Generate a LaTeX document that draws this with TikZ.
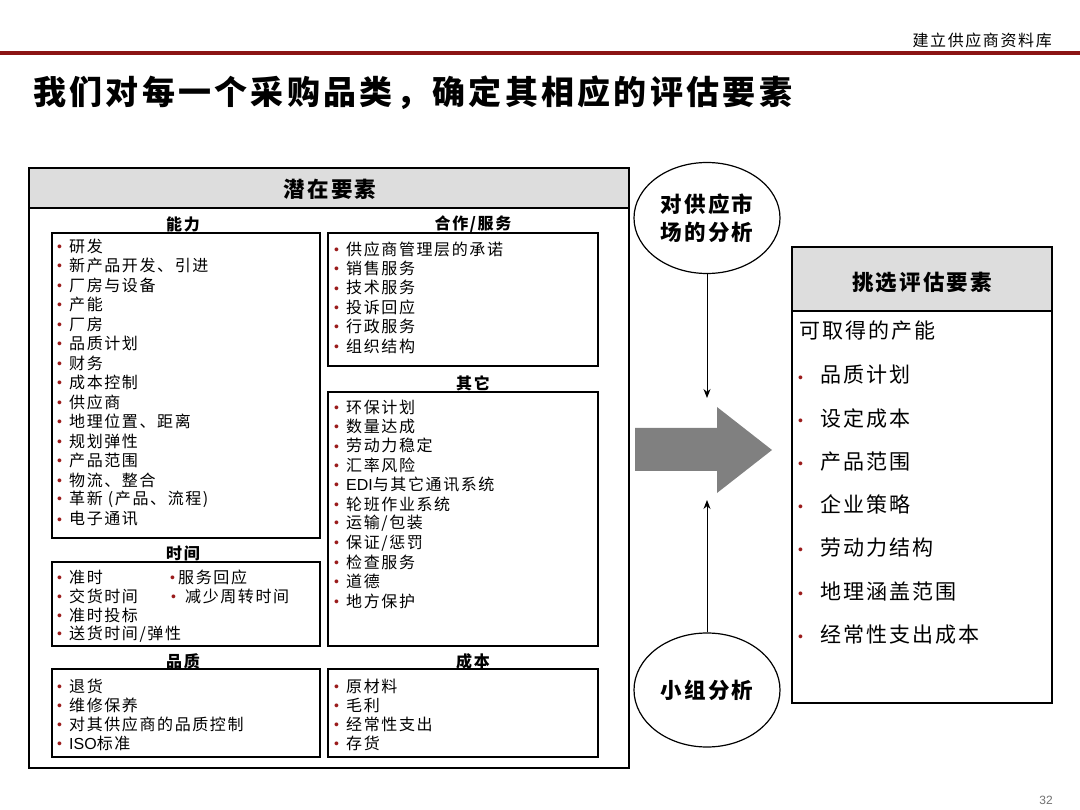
\documentclass[tikz,border=0pt]{standalone}
\usepackage{fontspec}
\setmainfont{Noto Sans CJK SC}[LetterSpace=10]
\newfontfamily\latfont{Liberation Sans}
\usetikzlibrary{shapes.geometric,arrows.meta}
\definecolor{darkred}{HTML}{8B1414}
\definecolor{bulred}{HTML}{9A1B1B}
\definecolor{hdrgray}{HTML}{DDDDDD}
\definecolor{arrowgray}{HTML}{808080}
\definecolor{pagegray}{HTML}{707070}
\newcommand\lat[1]{{\latfont #1}}
\newcommand\bl[1][12pt]{\makebox[#1][l]{\raisebox{0.8pt}{\textcolor{bulred}{\latfont\fontsize{14}{14}\selectfont •}}}}
\tikzset{
  box/.style={draw=black, line width=1.3pt},
  item/.style={anchor=west, inner sep=0pt, font=\fontsize{16}{16}\selectfont},
  bigitem/.style={anchor=west, inner sep=0pt, font=\fontsize{21}{21}\selectfont},
  lbl/.style={inner sep=0pt, font=\bfseries\fontsize{16}{16}\selectfont},
  hdrtxt/.style={inner sep=0pt, font=\bfseries\fontsize{21.5}{21.5}\selectfont},
  oval/.style={ellipse, draw=black, line width=1.2pt, align=center, inner sep=0pt,
    font=\bfseries\fontsize{21.5}{28}\selectfont},
  thin arrow/.style={line width=0.9pt, -{Stealth[length=9pt,width=7pt]}}
}
\begin{document}
\begin{tikzpicture}[x=1pt,y=-1pt]
\useasboundingbox (0,0) rectangle (1080,810);
% header
\node[anchor=east, inner sep=0pt, font=\fontsize{16}{16}\selectfont] (hdr) at (1052,40) {建立供应商资料库};
\fill[darkred] (0,51.5) rectangle (1080,55);
\node[anchor=west, inner sep=0pt, font=\bfseries\fontsize{33}{33}\selectfont] (title) at (33,93) {我们对每一个采购品类，确定其相应的评估要素};
% outer box
\filldraw[box, fill=hdrgray] (29,168) rectangle (629,208);
\draw[box] (29,168) rectangle (629,768);
\node[hdrtxt] (qz) at (330,189) {潜在要素};
% inner boxes
\draw[box] (52,233) rectangle (320,538);
\draw[box] (52,562) rectangle (320,646);
\draw[box] (52,669) rectangle (320,757);
\draw[box] (328,233) rectangle (598,366);
\draw[box] (328,392) rectangle (598,646);
\draw[box] (328,669) rectangle (598,757);
% labels
\node[lbl] (lnl) at (183,224) {能力};
\node[lbl] (lsj) at (183,553) {时间};
\node[lbl] (lpz) at (183,661) {品质};
\node[lbl] (lhz) at (473,224) {合作/服务};
\node[lbl] (lqt) at (473,383) {其它};
\node[lbl] (lcb) at (473,661) {成本};
% items
\foreach \t [count=\i from 0] in {研发,新产品开发、引进,厂房与设备,产能,厂房,品质计划,财务,成本控制,供应商,地理位置、距离,规划弹性,产品范围,物流、整合,革新 (产品、流程),电子通讯}
  \node[item] (nl\i) at (57,246+19.5*\i) {\bl\t};
\foreach \t [count=\i from 0] in {供应商管理层的承诺,销售服务,技术服务,投诉回应,行政服务,组织结构}
  \node[item] (hz\i) at (334,249+19.4*\i) {\bl\t};
\foreach \t [count=\i from 0] in {环保计划,数量达成,劳动力稳定,汇率风险,{\lat{EDI}与其它通讯系统},轮班作业系统,运输/包装,保证/惩罚,检查服务,道德,地方保护}
  \node[item] (qt\i) at (334,407+19.4*\i) {\bl\t};
\foreach \t [count=\i from 0] in {准时,交货时间,准时投标,送货时间/弹性}
  \node[item] (sj\i) at (57,577+19*\i) {\bl\t};
\node[item] (sjb0) at (170,577) {\bl[8pt]服务回应};
\node[item] (sjb1) at (171,596) {\bl[14pt]减少周转时间};
\foreach \t [count=\i from 0] in {退货,维修保养,对其供应商的品质控制,{\lat{ISO}标准}}
  \node[item] (pz\i) at (57,686+19*\i) {\bl\t};
\foreach \t [count=\i from 0] in {原材料,毛利,经常性支出,存货}
  \node[item] (cb\i) at (334,686+19*\i) {\bl\t};
% ellipses and arrows
\node[oval, minimum width=146, minimum height=111] (e1) at (707,218) {对供应市\\场的分析};
\node[oval, minimum width=146, minimum height=114] (e2) at (707,690) {小组分析};
\coordinate (a1) at (707,398);
\coordinate (a2) at (707,500);
\draw[thin arrow] (e1.south) -- (a1);
\draw[thin arrow] (e2.north) -- (a2);
\fill[arrowgray] (635,428) -- (717,428) -- (717,407) -- (772,450) -- (717,493) -- (717,471) -- (635,471) -- cycle;
% right box
\filldraw[box, fill=hdrgray] (792,247) rectangle (1052,311);
\draw[box] (792,247) rectangle (1052,703);
\node[hdrtxt] (tx) at (922,282) {挑选评估要素};
\node[bigitem] (kq) at (799,331) {可取得的产能};
\foreach \t [count=\i from 0] in {品质计划,设定成本,产品范围,企业策略,劳动力结构,地理涵盖范围,经常性支出成本}
  \node[bigitem] (rb\i) at (798,375+43.2*\i) {\bl[22pt]\t};
% page number
\node[inner sep=0pt, font=\latfont\fontsize{12}{12}\selectfont, text=pagegray] (pg) at (1046,800) {32};
\end{tikzpicture}
\end{document}
